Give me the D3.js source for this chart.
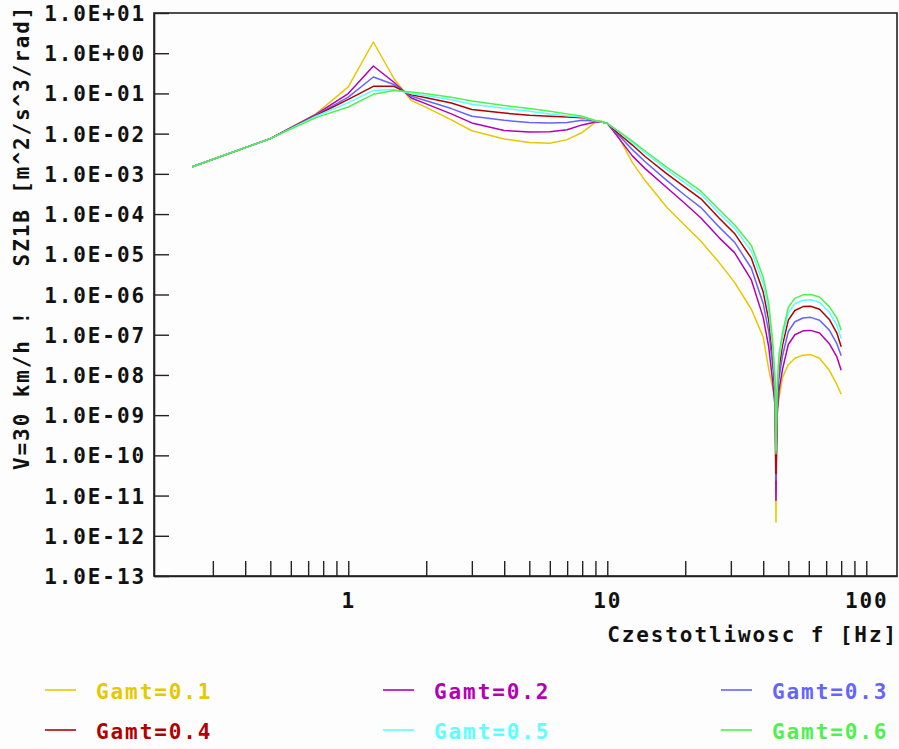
<!DOCTYPE html>
<html>
<head>
<meta charset="utf-8">
<script src="https://cdn.jsdelivr.net/npm/d3@7/dist/d3.min.js"></script>
<style>
  html, body { margin: 0; padding: 0; background: #fdfdfd; }
  svg { display: block; }
  text { font-family: "DejaVu Sans Mono", monospace; font-weight: bold; font-size: 21px; letter-spacing: 1.9px; }
</style>
</head>
<body>
<svg id="chart" width="899" height="749"></svg>
<script>
// ---------------- DATA ----------------
const freqs = [0.25, 0.5, 0.75, 1, 1.25, 1.5, 1.75, 2, 2.5, 3, 4, 5, 6, 7, 8, 9, 9.5, 10, 11, 12.5, 14, 17, 20, 23, 27, 31, 36, 40, 42, 43.5, 44.5, 44.8, 45.2, 46, 47.5, 50, 53, 57, 61, 66, 72, 77, 80];

const seriesNames = ["Gamt=0.1", "Gamt=0.2", "Gamt=0.3", "Gamt=0.4", "Gamt=0.5", "Gamt=0.6"];
const seriesColors = ["#e6c800", "#b400b4", "#6464ff", "#b40000", "#5cffff", "#50f050"];

const gamt01 = [1.5e-3, 7.5e-3, 0.031, 0.145, 1.9, 0.235, 0.067, 0.045, 0.022, 0.0118, 0.0074, 0.006, 0.0058, 0.0071, 0.0107, 0.019, 0.0205, 0.0178, 0.0089, 1.9e-3, 6.8e-4, 1.45e-4, 5.1e-5, 2.1e-5, 6.3e-6, 2.0e-6, 4.3e-7, 8.7e-8, 1.4e-8, 4.9e-9, 2.3e-9, 2.2e-12, 1.3e-9, 2.6e-9, 8.7e-9, 1.8e-8, 2.6e-8, 3.1e-8, 3.2e-8, 2.6e-8, 1.3e-8, 5.8e-9, 3.3e-9];
const gamt02 = [1.5e-3, 7.5e-3, 0.030, 0.099, 0.48, 0.19, 0.077, 0.055, 0.031, 0.0185, 0.012, 0.011, 0.0112, 0.0125, 0.0165, 0.0195, 0.0195, 0.018, 0.0082, 2.8e-3, 1.35e-3, 4.5e-4, 1.8e-4, 8e-5, 2.6e-5, 1.1e-5, 2.3e-6, 2.7e-7, 5e-8, 7e-9, 1.5e-9, 7.6e-12, 8e-10, 4e-9, 1.4e-8, 5.7e-8, 1e-7, 1.25e-7, 1.28e-7, 1.1e-7, 6e-8, 2.8e-8, 1.3e-8];
const gamt03 = [1.5e-3, 7.5e-3, 0.029, 0.081, 0.256, 0.166, 0.085, 0.066, 0.042, 0.027, 0.0214, 0.019, 0.0185, 0.019, 0.0215, 0.0205, 0.0195, 0.018, 0.0096, 4e-3, 2.0e-3, 6.8e-4, 2.9e-4, 1.45e-4, 4.8e-5, 2e-5, 4.5e-6, 5.9e-7, 1.2e-7, 1.7e-8, 3e-9, 2.4e-11, 1.4e-9, 8e-9, 3e-8, 1.2e-7, 2.1e-7, 2.6e-7, 2.7e-7, 2.3e-7, 1.3e-7, 6e-8, 3e-8];
const gamt04 = [1.5e-3, 7.5e-3, 0.028, 0.071, 0.15, 0.15, 0.092, 0.078, 0.058, 0.040, 0.0325, 0.0285, 0.027, 0.026, 0.025, 0.021, 0.0195, 0.018, 0.0104, 5.2e-3, 2.7e-3, 1.0e-3, 4.6e-4, 2.4e-4, 8e-5, 3.3e-5, 8e-6, 1.15e-6, 2.3e-7, 3e-8, 4e-9, 3.5e-11, 2e-9, 1.4e-8, 5.5e-8, 2.3e-7, 4e-7, 5e-7, 5.1e-7, 4.3e-7, 2.4e-7, 1.1e-7, 5e-8];
const gamt05 = [1.5e-3, 7.5e-3, 0.027, 0.059, 0.119, 0.125, 0.1, 0.088, 0.07, 0.054, 0.043, 0.036, 0.031, 0.028, 0.026, 0.021, 0.0195, 0.018, 0.0115, 6e-3, 3.3e-3, 1.25e-3, 5.9e-4, 3.1e-4, 1.05e-4, 4.4e-5, 1.2e-5, 1.86e-6, 4e-7, 5e-8, 5e-9, 1.3e-10, 3e-9, 2.3e-8, 8.5e-8, 3.5e-7, 5.9e-7, 7.2e-7, 7.4e-7, 6.4e-7, 3.6e-7, 1.7e-7, 8e-8];
const gamt06 = [1.5e-3, 7.5e-3, 0.025, 0.046, 0.095, 0.118, 0.108, 0.098, 0.08, 0.065, 0.05, 0.042, 0.036, 0.031, 0.027, 0.021, 0.020, 0.018, 0.0118, 6.5e-3, 3.7e-3, 1.45e-3, 7.1e-4, 3.7e-4, 1.3e-4, 5.4e-5, 1.66e-5, 2.7e-6, 6e-7, 7.2e-8, 7.2e-9, 1.1e-10, 4e-9, 3.1e-8, 1.15e-7, 4.8e-7, 8e-7, 9.8e-7, 1.0e-6, 8.7e-7, 5e-7, 2.6e-7, 1.3e-7];

const yTickValues = [1e1, 1e0, 1e-1, 1e-2, 1e-3, 1e-4, 1e-5, 1e-6, 1e-7, 1e-8, 1e-9, 1e-10, 1e-11, 1e-12, 1e-13];
const yTickLabels = ["1.0E+01", "1.0E+00", "1.0E-01", "1.0E-02", "1.0E-03", "1.0E-04", "1.0E-05", "1.0E-06", "1.0E-07", "1.0E-08", "1.0E-09", "1.0E-10", "1.0E-11", "1.0E-12", "1.0E-13"];
const xTickValues = [0.3, 0.4, 0.5, 0.6, 0.7, 0.8, 0.9, 1, 2, 3, 4, 5, 6, 7, 8, 9, 10, 20, 30, 40, 50, 60, 70, 80, 90, 100];
const xTickLabels = {"1": "1", "10": "10", "100": "100"};

const xTitle = "Czestotliwosc f [Hz]";
const yTitle = "V=30 km/h !   SZ1B [m^2/s^3/rad]";

// ---------------- CHART ----------------
const svg = d3.select("#chart");
const L = 154, R = 897, T = 13, B = 576;

const x = d3.scaleLog().domain([0.1778, 131.4]).range([L, R]);
const y = d3.scaleLog().domain([1e-13, 1e1]).range([B, T]);

const allSeries = [gamt01, gamt02, gamt03, gamt04, gamt05, gamt06];

// frame
svg.append("rect").attr("x", L).attr("y", T).attr("width", R - L).attr("height", B - T)
  .attr("fill", "none").attr("stroke", "#222").attr("stroke-width", 1.6);

// y axis
const yAxis = d3.axisLeft(y).tickValues(yTickValues)
  .tickFormat((d, i) => yTickLabels[i]).tickSizeInner(-15).tickSizeOuter(0).tickPadding(8);
const gy = svg.append("g").attr("transform", `translate(${L},0)`).call(yAxis);
gy.select(".domain").attr("stroke", "#222").attr("stroke-width", 1.6);
gy.selectAll(".tick line").attr("stroke", "#222").attr("stroke-width", 1.4);
gy.selectAll(".tick text").attr("fill", "#111").attr("dy", "0.36em")
  .style("font-size", "21px").style("font-family", "DejaVu Sans Mono");

// x axis
const xAxis = d3.axisBottom(x).tickValues(xTickValues)
  .tickFormat(d => xTickLabels[String(d)] || "").tickSizeInner(-15).tickSizeOuter(0).tickPadding(17);
const gx = svg.append("g").attr("transform", `translate(0,${B})`).call(xAxis);
gx.select(".domain").attr("stroke", "#222").attr("stroke-width", 1.6);
gx.selectAll(".tick line").attr("stroke", "#222").attr("stroke-width", 1.4);
gx.selectAll(".tick text").attr("fill", "#111")
  .style("font-size", "21px").style("font-family", "DejaVu Sans Mono");

// axis titles
svg.append("text").attr("x", R + 1).attr("y", 642).attr("text-anchor", "end")
  .attr("fill", "#111").text(xTitle);
svg.append("text").attr("transform", "translate(29,470) rotate(-90)")
  .attr("fill", "#111").style("white-space", "pre").text(yTitle);

// curves
const line = d3.line().x((d, i) => x(freqs[i])).y(d => y(d));
const gLines = svg.append("g");
allSeries.forEach((s, k) => {
  gLines.append("path").datum(s).attr("d", line)
    .attr("fill", "none").attr("stroke", seriesColors[k]).attr("stroke-width", 1.5)
    .attr("stroke-linejoin", "round");
});

// legend
const legX = [45, 383, 721];
const legY = [690, 730];
seriesNames.forEach((name, k) => {
  const lx = legX[k % 3], ly = legY[Math.floor(k / 3)];
  svg.append("line").attr("x1", lx).attr("x2", lx + 31).attr("y1", ly).attr("y2", ly)
    .attr("stroke", seriesColors[k]).attr("stroke-width", 1.6);
  svg.append("text").attr("x", lx + 51).attr("y", ly + 8.5)
    .attr("fill", seriesColors[k]).text(name);
});
</script>
</body>
</html>
